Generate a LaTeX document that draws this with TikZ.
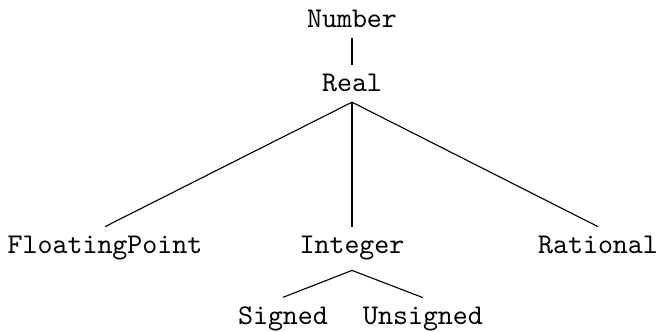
\documentclass[tikz,border=0pt]{standalone}
\begin{document}
\begin{tikzpicture}[x=0.3571pt,y=-0.3571pt,
  lbl/.style={font=\fontsize{10.2}{12}\ttfamily, anchor=base, inner sep=0.333em},
  edge/.style={draw=black, line width=0.4pt}]
\useasboundingbox (0,0) rectangle (662,332);
\node[lbl] (num) at (352,28) {Number};
\node[lbl] (real) at (352,92) {Real};
\node[lbl] (fp) at (105,254) {FloatingPoint};
\node[lbl] (int) at (352,254) {Integer};
\node[lbl] (rat) at (598,254) {Rational};
\node[lbl] (sig) at (283,325) {Signed};
\node[lbl] (uns) at (423,325) {Unsigned};
\draw[edge] (num.south) -- (real.north);
\draw[edge] (real.south) -- (fp.north);
\draw[edge] (real.south) -- (int.north);
\draw[edge] (real.south) -- (rat.north);
\draw[edge] (int.south) -- (sig.north);
\draw[edge] (int.south) -- (uns.north);
\end{tikzpicture}
\end{document}
